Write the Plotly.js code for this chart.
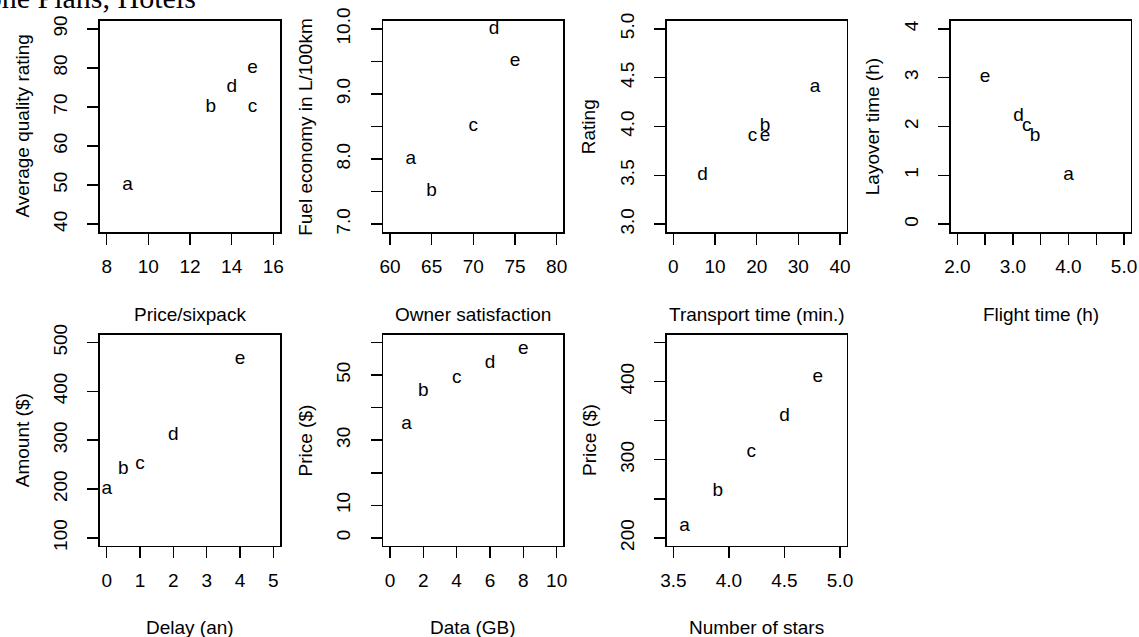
<!DOCTYPE html>
<html>
<head>
<meta charset="utf-8">
<script src="https://cdn.plot.ly/plotly-3.0.1.min.js"></script>
<style>html,body{margin:0;padding:0;background:#fff;}#chart{width:1139px;height:637px;}</style>
</head>
<body>
<div id="chart"></div>
<script>
// ---- data ----
const pointLabels = ['a', 'b', 'c', 'd', 'e'];

const beerPrice = [9, 13, 15, 14, 15];
const beerRating = [50, 70, 70, 75, 80];

const carSatisfaction = [62.5, 65, 70, 72.5, 75];
const carFuel = [8.0, 7.5, 8.5, 10.0, 9.5];

const transportTime = [34, 22, 19, 7, 22];
const transportRating = [4.4, 4.0, 3.9, 3.5, 3.9];

const flightTime = [4.0, 3.4, 3.25, 3.1, 2.5];
const layoverTime = [1.0, 1.8, 2.0, 2.2, 3.0];

const delayYears = [0, 0.5, 1, 2, 4];
const compensation = [200, 240, 250, 310, 465];

const dataGB = [1, 2, 4, 6, 8];
const phonePrice = [35, 45, 49, 53.5, 58];

const hotelStars = [3.6, 3.9, 4.2, 4.5, 4.8];
const hotelPrice = [215, 260, 310, 355, 405];

// tick values / labels
const beerXTicks = [8, 10, 12, 14, 16];
const beerXLabels = ['8', '10', '12', '14', '16'];
const beerYTicks = [40, 50, 60, 70, 80, 90];
const beerYLabels = ['40', '50', '60', '70', '80', '90'];

const carXTicks = [60, 65, 70, 75, 80];
const carXLabels = ['60', '65', '70', '75', '80'];
const carYTicks = [7.0, 7.5, 8.0, 8.5, 9.0, 9.5, 10.0];
const carYLabels = ['7.0', '', '8.0', '', '9.0', '', '10.0'];

const transXTicks = [0, 10, 20, 30, 40];
const transXLabels = ['0', '10', '20', '30', '40'];
const transYTicks = [3.0, 3.5, 4.0, 4.5, 5.0];
const transYLabels = ['3.0', '3.5', '4.0', '4.5', '5.0'];

const flightXTicks = [2.0, 2.5, 3.0, 3.5, 4.0, 4.5, 5.0];
const flightXLabels = ['2.0', '', '3.0', '', '4.0', '', '5.0'];
const flightYTicks = [0, 1, 2, 3, 4];
const flightYLabels = ['0', '1', '2', '3', '4'];

const delayXTicks = [0, 1, 2, 3, 4, 5];
const delayXLabels = ['0', '1', '2', '3', '4', '5'];
const delayYTicks = [100, 200, 300, 400, 500];
const delayYLabels = ['100', '200', '300', '400', '500'];

const phoneXTicks = [0, 2, 4, 6, 8, 10];
const phoneXLabels = ['0', '2', '4', '6', '8', '10'];
const phoneYTicks = [0, 10, 20, 30, 40, 50, 60];
const phoneYLabels = ['0', '10', '', '30', '', '50', ''];

const hotelXTicks = [3.5, 4.0, 4.5, 5.0];
const hotelXLabels = ['3.5', '4.0', '4.5', '5.0'];
const hotelYTicks = [200, 250, 300, 350, 400, 450];
const hotelYLabels = ['200', '', '300', '', '400', ''];

const panels = [
  {x: beerPrice, y: beerRating, xt: 'Price/sixpack', yt: 'Average quality rating',
   xv: beerXTicks, xl: beerXLabels, yv: beerYTicks, yl: beerYLabels},
  {x: carSatisfaction, y: carFuel, xt: 'Owner satisfaction', yt: 'Fuel economy in L/100km',
   xv: carXTicks, xl: carXLabels, yv: carYTicks, yl: carYLabels},
  {x: transportTime, y: transportRating, xt: 'Transport time (min.)', yt: 'Rating',
   xv: transXTicks, xl: transXLabels, yv: transYTicks, yl: transYLabels},
  {x: flightTime, y: layoverTime, xt: 'Flight time (h)', yt: 'Layover time (h)',
   xv: flightXTicks, xl: flightXLabels, yv: flightYTicks, yl: flightYLabels},
  {x: delayYears, y: compensation, xt: 'Delay (an)', yt: 'Amount ($)',
   xv: delayXTicks, xl: delayXLabels, yv: delayYTicks, yl: delayYLabels},
  {x: dataGB, y: phonePrice, xt: 'Data (GB)', yt: 'Price ($)',
   xv: phoneXTicks, xl: phoneXLabels, yv: phoneYTicks, yl: phoneYLabels},
  {x: hotelStars, y: hotelPrice, xt: 'Number of stars', yt: 'Price ($)',
   xv: hotelXTicks, xl: hotelXLabels, yv: hotelYTicks, yl: hotelYLabels}
];

// ---- layout geometry (pixels) ----
const W = 1139, H = 637;
const colLeft = [100, 383.3, 666.7, 950.7];
const rowTop = [21, 334.7];
const boxW = 180, boxH = 211;
const FONT = 'Liberation Sans, Arial, Helvetica, sans-serif';
const FS = 19;

function rRange(v) {
  const lo = Math.min(...v), hi = Math.max(...v), d = (hi - lo) * 0.04;
  return [lo - d, hi + d];
}

const traces = [];
const layout = {
  width: W, height: H,
  margin: {l: 0, r: 0, t: 0, b: 0},
  paper_bgcolor: '#fff', plot_bgcolor: '#fff',
  showlegend: false,
  font: {family: FONT, size: FS, color: '#000'},
  annotations: []
};

panels.forEach((p, i) => {
  const row = Math.floor(i / 4), col = i % 4;
  const L = colLeft[col], T = rowTop[row];
  const sfx = i === 0 ? '' : String(i + 1);
  traces.push({
    type: 'scatter', mode: 'text',
    x: p.x, y: p.y, text: pointLabels,
    textposition: 'middle center',
    textfont: {family: FONT, size: FS, color: '#000'},
    xaxis: 'x' + sfx, yaxis: 'y' + sfx,
    hoverinfo: 'skip', cliponaxis: false
  });
  const common = {
    showgrid: false, zeroline: false,
    showline: true, mirror: true, linecolor: '#000', linewidth: 1.6,
    ticks: 'outside', ticklen: 11, tickwidth: 1.5, tickcolor: '#000',
    tickmode: 'array', tickfont: {family: FONT, size: FS, color: '#000'},
    fixedrange: true
  };
  layout['xaxis' + sfx] = Object.assign({}, common, {
    domain: [L / W, (L + boxW) / W],
    anchor: 'y' + sfx,
    range: rRange(p.xv), tickvals: p.xv, ticktext: p.xl,
    ticklabelstandoff: 6
  });
  layout['yaxis' + sfx] = Object.assign({}, common, {
    domain: [1 - (T + boxH) / H, 1 - T / H],
    anchor: 'x' + sfx,
    range: rRange(p.yv), tickvals: p.yv, ticktext: p.yl,
    tickangle: -90, ticklabelstandoff: 13
  });
  layout.annotations.push({
    xref: 'paper', yref: 'paper',
    x: (L + boxW / 2) / W, y: 1 - (T + boxH + 82) / H,
    xanchor: 'center', yanchor: 'middle', showarrow: false,
    text: p.xt, font: {family: FONT, size: FS, color: '#000'}
  });
  layout.annotations.push({
    xref: 'paper', yref: 'paper',
    x: (L - 78) / W, y: 1 - (T + boxH / 2) / H,
    xanchor: 'center', yanchor: 'middle', showarrow: false, textangle: -90,
    text: p.yt, font: {family: FONT, size: FS, color: '#000'}
  });
});

// overall title (mostly outside the page on the left, as in the reference)
layout.annotations.push({
  xref: 'paper', yref: 'paper',
  x: 198 / W, y: 1 - 16 / H,
  xanchor: 'right', yanchor: 'bottom', showarrow: false,
  text: 'Phone Plans, Hotels',
  font: {family: 'Liberation Serif, Times New Roman, serif', size: 30, color: '#000'}
});

Plotly.newPlot('chart', traces, layout, {displayModeBar: false, staticPlot: true});
</script>
</body>
</html>
